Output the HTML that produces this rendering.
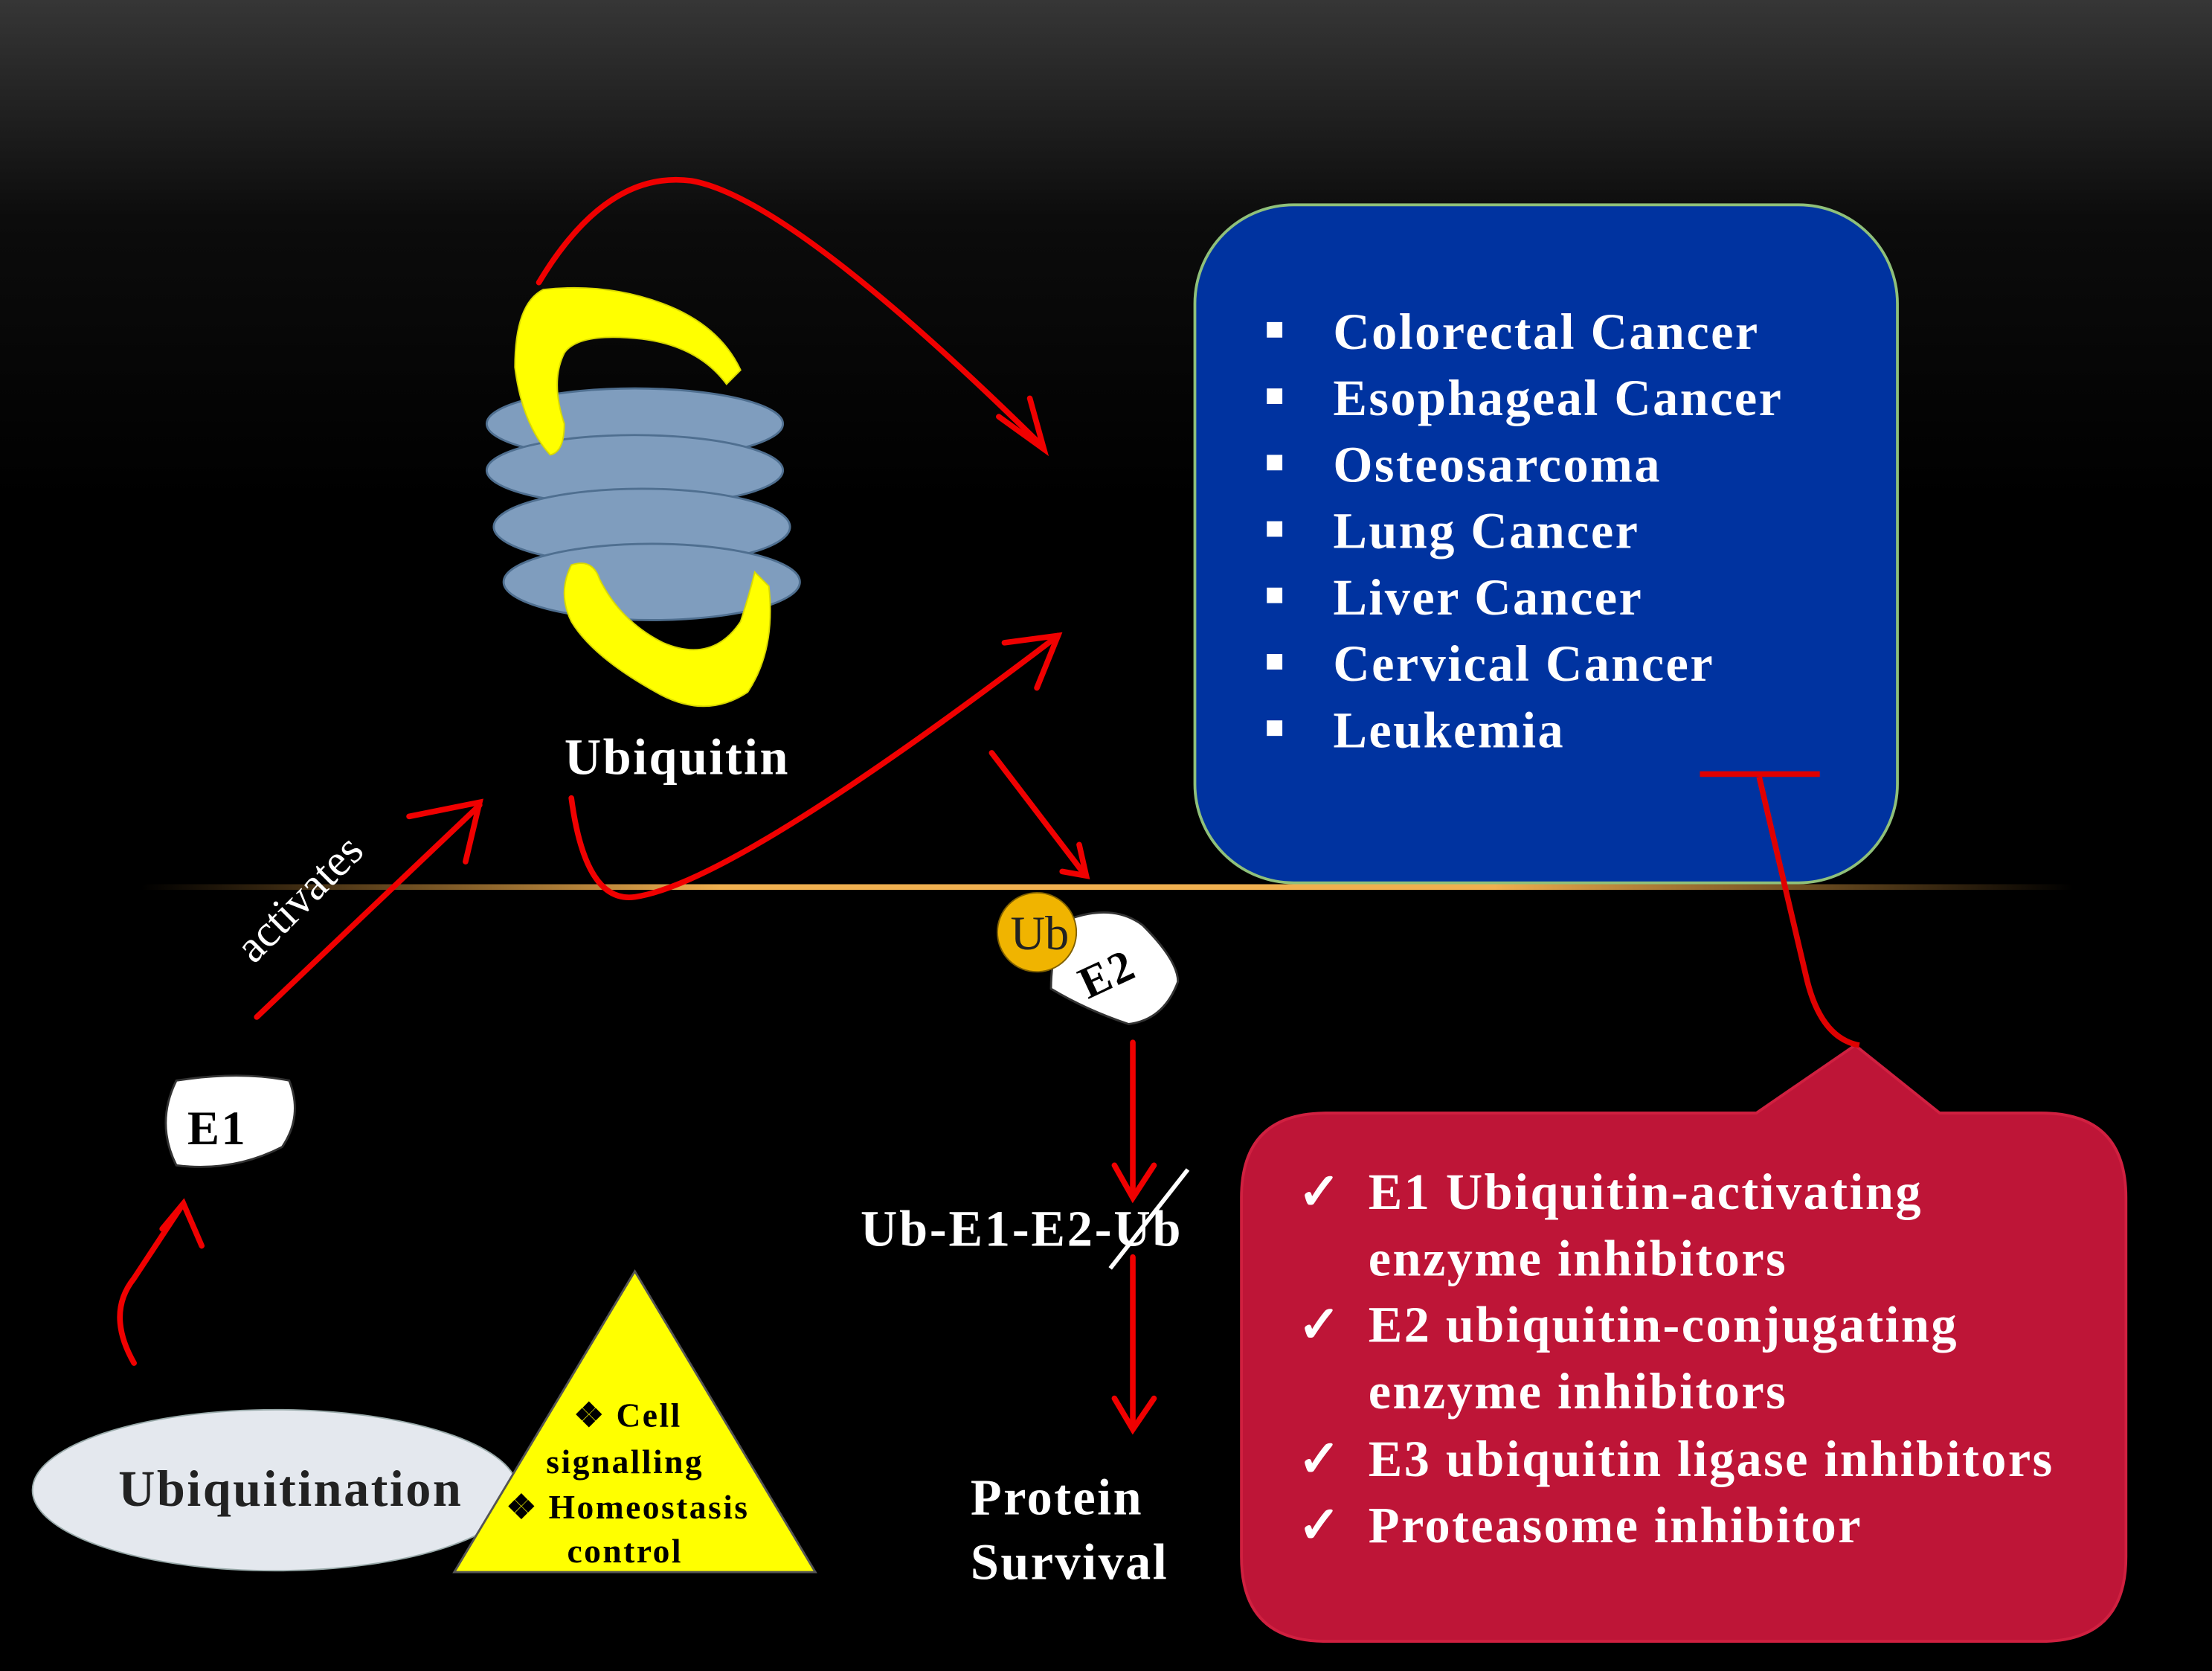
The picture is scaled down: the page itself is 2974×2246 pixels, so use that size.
<!DOCTYPE html>
<html><head><meta charset="utf-8"><style>
html,body{margin:0;padding:0;background:#000;}
svg{display:block;}
text{font-family:"Liberation Serif",serif;font-weight:bold;letter-spacing:1.3px;}
</style></head><body>
<svg width="2974" height="2246" viewBox="0 0 1568 1183" preserveAspectRatio="none" xmlns="http://www.w3.org/2000/svg">
<defs>
<linearGradient id="bg" x1="0" y1="0" x2="0" y2="1">
<stop offset="0" stop-color="#363636"/><stop offset="0.13" stop-color="#0c0c0c"/><stop offset="0.3" stop-color="#000"/><stop offset="1" stop-color="#000"/>
</linearGradient>
<radialGradient id="glow" cx="0.5" cy="1" r="0.5">
<stop offset="0" stop-color="#8a7a60" stop-opacity="0.55"/><stop offset="1" stop-color="#000" stop-opacity="0"/>
</radialGradient>
<linearGradient id="hl" x1="0" y1="0" x2="1" y2="0">
<stop offset="0" stop-color="#e8a040" stop-opacity="0"/><stop offset="0.3" stop-color="#f0b050"/><stop offset="0.7" stop-color="#f0b050"/><stop offset="1" stop-color="#e8a040" stop-opacity="0"/>
</linearGradient>
</defs>
<rect width="1568" height="1183" fill="url(#bg)"/>
<ellipse cx="560" cy="628" rx="260" ry="90" fill="url(#glow)"/>
<rect x="0" y="628" width="1568" height="555" fill="#000"/>
<rect x="100" y="626" width="1370" height="4" fill="url(#hl)"/>

<rect x="847" y="145" width="498" height="480" rx="70" fill="#0033a0" stroke="#8fc07a" stroke-width="2"/>
<g fill="#fff" font-size="36">
<g><rect x="898" y="228" width="11" height="11"/><text x="945" y="247">Colorectal Cancer</text></g>
<g><rect x="898" y="275" width="11" height="11"/><text x="945" y="294">Esophageal Cancer</text></g>
<g><rect x="898" y="322" width="11" height="11"/><text x="945" y="341">Osteosarcoma</text></g>
<g><rect x="898" y="369" width="11" height="11"/><text x="945" y="388">Lung Cancer</text></g>
<g><rect x="898" y="416" width="11" height="11"/><text x="945" y="435">Liver Cancer</text></g>
<g><rect x="898" y="463" width="11" height="11"/><text x="945" y="482">Cervical Cancer</text></g>
<g><rect x="898" y="510" width="11" height="11"/><text x="945" y="529">Leukemia</text></g>
</g>

<path d="M940,788 L1245,788 L1315,740 L1375,788 L1447,788 Q1507,788 1507,848 L1507,1102 Q1507,1162 1447,1162 L940,1162 Q880,1162 880,1102 L880,848 Q880,788 940,788 Z" fill="#be1537" stroke="#d02040" stroke-width="2"/>
<g fill="#fff" font-size="36">
<text x="920" y="856">✓</text><text x="970" y="856">E1 Ubiquitin-activating</text>
<text x="970" y="903">enzyme inhibitors</text>
<text x="920" y="950">✓</text><text x="970" y="950">E2 ubiquitin-conjugating</text>
<text x="970" y="997">enzyme inhibitors</text>
<text x="920" y="1045">✓</text><text x="970" y="1045">E3 ubiquitin ligase inhibitors</text>
<text x="920" y="1092">✓</text><text x="970" y="1092">Proteasome inhibitor</text>
</g>

<g stroke="#e00000" stroke-width="4" fill="none">
<path d="M1318,740 Q1290,735 1280,690 L1247,550"/>
<line x1="1205" y1="548" x2="1290" y2="548"/>
</g>

<g fill="#7f9dbe" stroke="#4f6f90" stroke-width="1.5">
<ellipse cx="450" cy="300" rx="105" ry="25"/>
<ellipse cx="450" cy="333" rx="105" ry="25"/>
<ellipse cx="455" cy="373" rx="105" ry="27"/>
<ellipse cx="462" cy="412" rx="105" ry="27"/>
</g>
<path d="M385,205 Q430,200 470,215 Q510,230 525,262 L515,272 Q495,245 455,240 Q410,235 400,250 Q390,270 400,300 Q400,320 390,322 Q370,300 365,260 Q365,215 385,205 Z" fill="#ffff00" stroke="#d8d800"/>
<path d="M405,400 Q420,395 425,410 Q440,440 470,455 Q505,470 525,440 Q532,418 535,405 L545,415 Q550,460 530,490 Q500,510 465,490 Q420,465 405,440 Q395,420 405,400 Z" fill="#ffff00" stroke="#d8d800"/>
<text x="480" y="548" fill="#fff" font-size="36" text-anchor="middle">Ubiquitin</text>

<g stroke="#f00000" stroke-width="4" fill="none" stroke-linecap="round">
<path d="M382,200 Q430,120 490,128 Q560,140 738,315"/>
<path d="M708,295 L740,318 L730,282"/>
<path d="M405,565 Q415,640 450,635 Q520,625 750,450"/>
<path d="M712,455 L750,450 L735,487"/>
<path d="M703,533 L768,618"/>
<path d="M753,617 L770,620 L765,598"/>
<path d="M182,720 L340,570"/>
<path d="M290,578 L340,568 L330,610"/>
<path d="M95,965 Q75,930 95,905 L128,855"/>
<path d="M115,870 L130,852 L143,882"/>
<path d="M803,738 L803,845"/>
<path d="M790,825 L803,848 L818,825"/>
<path d="M803,890 L803,1010"/>
<path d="M790,990 L803,1012 L818,990"/>
</g>

<path d="M125,765 Q170,758 205,765 Q215,790 200,812 Q165,830 125,825 Q110,795 125,765 Z" fill="#fff" stroke="#333" stroke-width="1.5"/>
<text x="154" y="810" fill="#000" font-size="34" text-anchor="middle">E1</text>
<text x="0" y="0" fill="#fff" font-size="32" transform="translate(180,683) rotate(-45)" style="font-weight:normal;letter-spacing:0">activates</text>

<path d="M760,650 Q790,640 810,655 Q835,680 835,695 Q825,722 800,725 Q770,715 745,700 Q745,668 760,650 Z" fill="#fff" stroke="#333" stroke-width="1.5"/>
<text x="785" y="700" fill="#000" font-size="32" text-anchor="middle" transform="rotate(-25 785 690)">E2</text>
<circle cx="735" cy="660" r="28" fill="#f0b400" stroke="#806000"/>
<text x="737" y="672" fill="#222" font-size="34" text-anchor="middle" style="font-weight:normal;letter-spacing:0">Ub</text>

<text x="610" y="882" fill="#fff" font-size="36" style="letter-spacing:1.5px">Ub-E1-E2-Ub</text>
<line x1="787" y1="898" x2="842" y2="828" stroke="#fff" stroke-width="3"/>
<text x="688" y="1072" fill="#fff" font-size="36">Protein</text>
<text x="688" y="1118" fill="#fff" font-size="36">Survival</text>

<ellipse cx="195" cy="1055" rx="172" ry="57" fill="#e4e8ee" stroke="#9aa"/>
<text x="206" y="1066" fill="#222" font-size="36" text-anchor="middle">Ubiquitination</text>
<path d="M450,900 L322,1113 L578,1113 Z" fill="#ffff00" stroke="#555" stroke-width="1.5"/>
<g fill="#000" font-size="24" text-anchor="middle">
<text x="445" y="1010">❖ Cell</text>
<text x="443" y="1043">signalling</text>
<text x="445" y="1075">❖ Homeostasis</text>
<text x="443" y="1106">control</text>
</g>
</svg>
</body></html>
